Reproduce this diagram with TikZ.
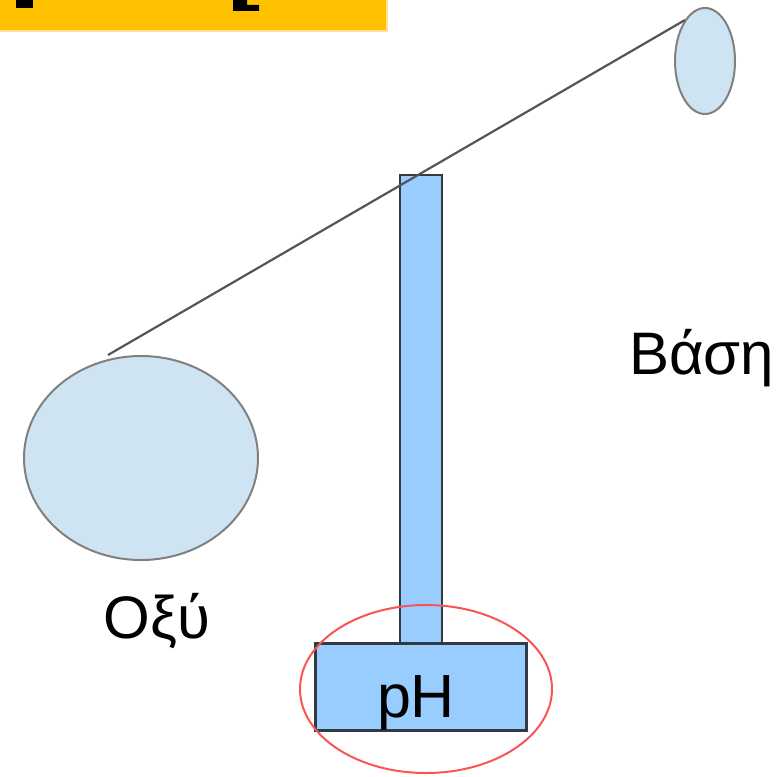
\documentclass[tikz,border=0pt]{standalone}
\usepackage{fontspec}
\setmainfont{Liberation Sans}
\usetikzlibrary{shapes.geometric}
\definecolor{banner}{RGB}{255,192,0}
\definecolor{banneredge}{RGB}{255,228,150}
\definecolor{flask}{RGB}{207,228,242}
\definecolor{flaskline}{RGB}{128,128,128}
\definecolor{tube}{RGB}{153,204,255}
\definecolor{tubeline}{RGB}{50,58,68}
\definecolor{wire}{RGB}{85,85,85}
\definecolor{ring}{RGB}{250,85,85}
\begin{document}
\begin{tikzpicture}[x=1pt,y=-1pt,
  flaskst/.style={ellipse,draw=flaskline,fill=flask,line width=2pt,inner sep=0pt},
  tubest/.style={draw=tubeline,fill=tube,line width=2.6pt,inner sep=0pt},
  label/.style={font=\fontsize{60}{72}\selectfont,inner sep=0pt,anchor=base}]
\useasboundingbox (0,0) rectangle (781,776);
% banner
\fill[banneredge] (0,0) rectangle (388,32);
\fill[banner] (0,0) rectangle (386,30);
\fill[black] (16,0) rectangle (33,8);
\fill[black] (233,0) -- (247,0) -- (247,5) -- (259,5) -- (259,11) -- (233,11) -- cycle;
% flasks
\node[flaskst,minimum width=234pt,minimum height=204pt] (acid) at (141,458) {};
\node[flaskst,minimum width=60pt,minimum height=106pt] (base) at (705,61) {};
% tube and sensor
\node[tubest,minimum width=42pt,minimum height=470pt] (column) at (421,410) {};
\node[tubest,minimum width=211pt,minimum height=87pt] (sensor) at (421,687) {};
\node[label,font=\fontsize{61}{72}\selectfont] (ph) at (416,717) {pH};
\node[ellipse,draw=ring,line width=2pt,minimum width=252pt,minimum height=168pt,inner sep=0pt] (ringel) at (426,689) {};
% wire
\coordinate (wa) at (108,355);
\coordinate (wb) at (685,20);
\draw[wire,line width=2.2pt] (wa) -- (wb);
% labels
\node[label] (oxy) at (157,638) {Οξύ};
\node[label,anchor=base west] (vasi) at (629,374) {Βάση};
\end{tikzpicture}
\end{document}
